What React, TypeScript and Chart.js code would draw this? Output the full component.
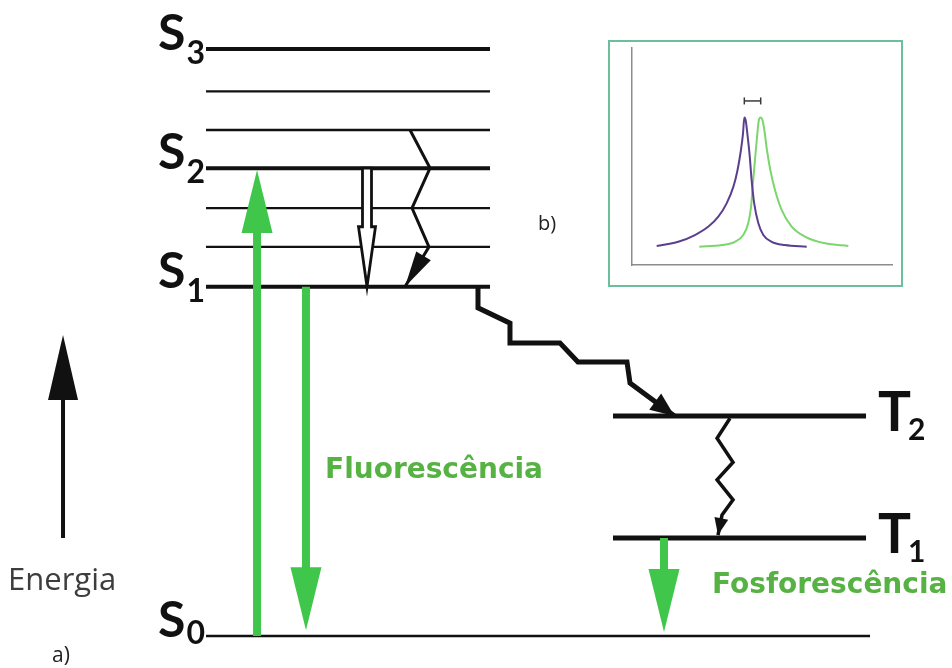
import { useEffect, useRef } from 'react';
import { Chart, registerables } from 'chart.js';

Chart.register(...registerables);

// ---- Jablonski diagram data ----
// Energies in arbitrary units (S0 = 0); horizontal positions in layout units 0–100.
const singletIndices = ['0', '1', '2', '3'];
const singletEnergies = [0, 5.95, 7.97, 10.0];
const vibrationalEnergies = [6.63, 7.29, 8.62, 9.28];
const tripletIndices = ['1', '2'];
const tripletEnergies = [1.67, 3.75];

const singletSpan = [21.64, 51.47];
const groundSpan = [21.64, 91.39];
const tripletSpan = [64.39, 90.97];

// Radiative transitions: absorption S0→S2, fluorescence S1→S0, phosphorescence T1→S0
const radiativeX = [27.0, 32.14, 69.75];
const radiativeFrom = [0, 5.95, 1.67];
const radiativeTo = [7.94, 0.1, 0.07];

// Internal conversion S2 → S1 (hollow arrow)
const internalX = [38.55];
const internalFrom = [7.97];
const internalTo = [5.95];

// Vibrational relaxation inside the singlet manifold
const relaxX = [43.07, 45.17, 43.28, 45.06, 42.54];
const relaxE = [8.62, 7.97, 7.29, 6.63, 5.95];

// Intersystem crossing S1 → T2
const iscX = [50.21, 50.21, 53.57, 53.57, 58.82, 60.71, 65.86, 66.18, 70.85];
const iscE = [5.95, 5.59, 5.33, 4.99, 4.99, 4.67, 4.67, 4.31, 3.75];

// Internal conversion T2 → T1
const tripletRelaxX = [76.68, 75.32, 77.0, 75.32, 77.0, 75.84, 75.42];
const tripletRelaxE = [3.71, 3.37, 2.96, 2.66, 2.32, 2.06, 1.72];

// Energy axis arrow
const energyAxisX = [6.62];
const energyAxisFrom = [1.67];
const energyAxisTo = [5.13];

// Free text
const noteTexts = ['Fluorescência', 'Fosforescência', 'Energia', 'a)', 'b)'];
const noteX = [34.14, 74.79, 0.84, 5.46, 56.51];
const noteE = [2.69, 0.73, 0.78, -0.44, 6.92];

// ---- Inset spectra (arbitrary wavelength / intensity units) ----
const absorptionX = [9.5, 17.8, 24.2, 29.4, 33.2, 36.4, 39.0, 40.6, 41.9, 42.7, 43.2, 43.7, 44.5, 45.3, 46.0, 47.0, 48.6, 50.5, 53.7, 58.8, 67.2];
const absorptionY = [8.8, 10.7, 13.8, 17.7, 22.3, 28.4, 36.1, 43.8, 53.0, 60.7, 68.0, 66.8, 59.1, 49.9, 39.2, 28.4, 19.2, 13.8, 10.7, 9.2, 8.4];
const emissionX = [25.9, 34.5, 39.6, 42.8, 44.7, 45.8, 46.5, 47.3, 48.1, 48.8, 49.5, 50.1, 50.9, 51.9, 53.2, 55.0, 57.6, 61.4, 66.5, 74.2, 83.2];
const emissionY = [8.4, 9.2, 10.7, 13.8, 19.2, 26.9, 37.6, 48.4, 59.1, 66.8, 68.0, 67.1, 62.2, 53.0, 43.8, 34.6, 25.3, 17.7, 13.1, 10.0, 8.8];
const stokesShiftX = [43.2, 49.5];
const stokesShiftY = [75.6, 75.6];

const BLACK = '#111111';
const ARROW_GREEN = '#3fc64b';
const TEXT_GREEN = '#55b243';

function seg(xs: number[], es: number[]) {
  return xs.map((x, i) => ({ x, y: es[i] }));
}

function levelSet(span: number[], e: number, width: number) {
  return {
    data: [{ x: span[0], y: e }, { x: span[1], y: e }],
    showLine: true,
    borderColor: BLACK,
    borderWidth: width,
    pointRadius: 0,
  };
}

function pathSet(xs: number[], es: number[], width: number) {
  return {
    data: seg(xs, es),
    showLine: true,
    borderColor: BLACK,
    borderWidth: width,
    borderJoinStyle: 'miter' as const,
    pointRadius: 0,
  };
}

function head(ctx: CanvasRenderingContext2D, tx: number, ty: number, fx: number, fy: number, len: number, half: number, fill: string) {
  const a = Math.atan2(ty - fy, tx - fx);
  const bx = tx - Math.cos(a) * len;
  const by = ty - Math.sin(a) * len;
  const nx = -Math.sin(a) * half;
  const ny = Math.cos(a) * half;
  ctx.beginPath();
  ctx.moveTo(tx, ty);
  ctx.lineTo(bx + nx, by + ny);
  ctx.lineTo(bx - nx, by - ny);
  ctx.closePath();
  ctx.fillStyle = fill;
  ctx.fill();
}

function straightArrow(ctx: CanvasRenderingContext2D, x: number, y0: number, y1: number, shaft: number, len: number, half: number, color: string) {
  const dir = Math.sign(y1 - y0);
  ctx.beginPath();
  ctx.moveTo(x, y0);
  ctx.lineTo(x, y1 - dir * (len - 2));
  ctx.strokeStyle = color;
  ctx.lineWidth = shaft;
  ctx.lineCap = 'butt';
  ctx.stroke();
  head(ctx, x, y1, x, y0, len, half, color);
}

const diagramMarks = {
  id: 'diagramMarks',
  afterDatasetsDraw(chart: Chart) {
    const ctx = chart.ctx;
    const xs = chart.scales.x;
    const ys = chart.scales.y;
    const X = (v: number) => xs.getPixelForValue(v);
    const Y = (v: number) => ys.getPixelForValue(v);
    ctx.save();

    // green radiative arrows
    radiativeX.forEach((x, i) => {
      straightArrow(ctx, X(x), Y(radiativeFrom[i]), Y(radiativeTo[i]), 8, 63, 15.5, ARROW_GREEN);
    });

    // energy axis
    energyAxisX.forEach((x, i) => {
      straightArrow(ctx, X(x), Y(energyAxisFrom[i]), Y(energyAxisTo[i]), 4, 65, 15, BLACK);
    });

    // hollow internal-conversion arrow
    internalX.forEach((x, i) => {
      const cx = X(x);
      const top = Y(internalFrom[i]);
      const tip = Y(internalTo[i]);
      const base = tip - 60;
      ctx.beginPath();
      ctx.moveTo(cx - 4.5, top);
      ctx.lineTo(cx + 4.5, top);
      ctx.lineTo(cx + 4.5, base);
      ctx.lineTo(cx + 8.5, base);
      ctx.lineTo(cx, tip);
      ctx.lineTo(cx - 8.5, base);
      ctx.lineTo(cx - 4.5, base);
      ctx.closePath();
      ctx.fillStyle = '#ffffff';
      ctx.fill();
      ctx.strokeStyle = BLACK;
      ctx.lineWidth = 2.8;
      ctx.lineJoin = 'miter';
      ctx.stroke();
    });

    // heads on the wavy non-radiative paths
    const n1 = relaxX.length - 1;
    head(ctx, X(relaxX[n1]), Y(relaxE[n1]), X(relaxX[n1 - 1]), Y(relaxE[n1 - 1]), 36, 8.5, BLACK);
    const n2 = iscX.length - 1;
    head(ctx, X(iscX[n2]), Y(iscE[n2]), X(iscX[n2 - 1]), Y(iscE[n2 - 1]), 24, 10, BLACK);
    const n3 = tripletRelaxX.length - 1;
    head(ctx, X(tripletRelaxX[n3]), Y(tripletRelaxE[n3]), X(tripletRelaxX[n3 - 1]), Y(tripletRelaxE[n3 - 1]), 17, 7, BLACK);

    // state labels S_n
    ctx.fillStyle = BLACK;
    ctx.textBaseline = 'alphabetic';
    singletEnergies.forEach((e, i) => {
      const right = X(singletSpan[0]) - 1;
      const y = Y(e);
      ctx.font = 'bold 32px Lato';
      ctx.textAlign = 'right';
      const subW = ctx.measureText(singletIndices[i]).width;
      ctx.fillText(singletIndices[i], right, y + (i === 0 ? 8 : 15));
      ctx.font = 'bold 50px Lato';
      ctx.fillText('S', right - subW - 1, y + 1);
    });

    // state labels T_n
    tripletEnergies.forEach((e, i) => {
      const left = X(tripletSpan[1]) + 12;
      const y = Y(e);
      ctx.textAlign = 'left';
      ctx.font = 'bold 55px Lato';
      const tW = ctx.measureText('T').width;
      ctx.fillText('T', left, y + 15);
      ctx.font = 'bold 30px Lato';
      ctx.fillText(tripletIndices[i], left + tW - 3, y + 24);
    });

    // free text
    const noteFonts = ['bold 28px "DejaVu Sans"', 'bold 28px "DejaVu Sans"', '31px "Open Sans"', '21px "Open Sans"', '20px "Open Sans"'];
    const noteColors = [TEXT_GREEN, TEXT_GREEN, '#3d3d3d', '#222222', '#222222'];
    noteTexts.forEach((t, i) => {
      ctx.font = noteFonts[i];
      ctx.fillStyle = noteColors[i];
      ctx.textAlign = 'left';
      ctx.fillText(t, X(noteX[i]), Y(noteE[i]));
    });

    ctx.restore();
  },
};

function Diagram() {
  const ref = useRef<HTMLCanvasElement | null>(null);
  useEffect(() => {
    if (!ref.current) return;
    const datasets: any[] = [];
    vibrationalEnergies.forEach((e) => datasets.push(levelSet(singletSpan, e, 2.3)));
    singletEnergies.forEach((e, i) => {
      if (i === 0) datasets.push(levelSet(groundSpan, e, 2.6));
      else datasets.push(levelSet(singletSpan, e, 4));
    });
    tripletEnergies.forEach((e) => datasets.push(levelSet(tripletSpan, e, 5)));
    datasets.push(pathSet(relaxX, relaxE, 3));
    datasets.push(pathSet(iscX, iscE, 5));
    datasets.push(pathSet(tripletRelaxX, tripletRelaxE, 3.5));

    const chart = new Chart(ref.current, {
      type: 'scatter',
      data: { datasets },
      options: {
        animation: false,
        responsive: false,
        events: [],
        layout: { padding: 0 },
        plugins: { legend: { display: false }, tooltip: { enabled: false } },
        scales: {
          x: { type: 'linear', display: false, min: 0, max: 100 },
          y: { type: 'linear', display: false, min: -0.545, max: 10.835 },
        },
      },
      plugins: [diagramMarks],
    });
    return () => chart.destroy();
  }, []);
  return <canvas ref={ref} width={952} height={668} style={{ position: 'absolute', left: 0, top: 0 }} />;
}

function SpectraInset() {
  const ref = useRef<HTMLCanvasElement | null>(null);
  useEffect(() => {
    if (!ref.current) return;
    const axis = {
      type: 'linear' as const,
      min: 0,
      max: 100,
      ticks: { display: false },
      grid: { display: false, drawTicks: false },
      border: { display: true, color: '#8c8c8c', width: 1.5 },
    };
    const chart = new Chart(ref.current, {
      type: 'scatter',
      data: {
        datasets: [
          {
            label: 'Absorção',
            data: seg(absorptionX, absorptionY),
            showLine: true,
            borderColor: '#5a3f8e',
            borderWidth: 2,
            pointRadius: 0,
            cubicInterpolationMode: 'monotone',
          },
          {
            label: 'Emissão',
            data: seg(emissionX, emissionY),
            showLine: true,
            borderColor: '#7bd66c',
            borderWidth: 2,
            pointRadius: 0,
            cubicInterpolationMode: 'monotone',
          },
          {
            label: 'Desvio de Stokes',
            data: seg(stokesShiftX, stokesShiftY),
            showLine: true,
            borderColor: '#3a3a3a',
            borderWidth: 1.5,
            pointStyle: 'line',
            rotation: 90,
            pointRadius: 3.5,
            pointBorderWidth: 1.5,
          },
        ],
      },
      options: {
        animation: false,
        responsive: false,
        events: [],
        layout: { padding: { left: 22, top: 6, right: 9, bottom: 20 } },
        plugins: { legend: { display: false }, tooltip: { enabled: false } },
        scales: { x: axis, y: axis },
      },
    });
    return () => chart.destroy();
  }, []);
  return (
    <div
      style={{
        position: 'absolute',
        left: 608,
        top: 40,
        width: 295,
        height: 247,
        boxSizing: 'border-box',
        border: '2px solid #6cbf9c',
        background: '#ffffff',
      }}
    >
      <canvas ref={ref} width={291} height={243} style={{ display: 'block' }} />
    </div>
  );
}

export default function App() {
  return (
    <div style={{ position: 'fixed', left: 0, top: 0, width: 952, height: 668, background: '#ffffff', overflow: 'hidden' }}>
      <Diagram />
      <SpectraInset />
    </div>
  );
}
